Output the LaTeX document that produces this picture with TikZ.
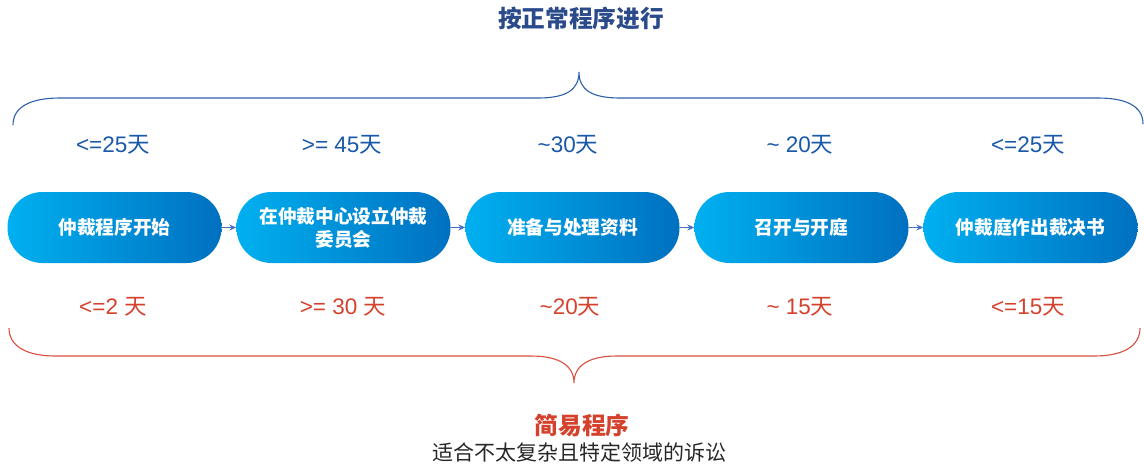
\documentclass[tikz,border=0pt]{standalone}
\usepackage{fontspec}
\setmainfont{Liberation Sans}
\newfontfamily\cjk{Noto Sans CJK SC}
\usetikzlibrary{arrows.meta}
\definecolor{boxL}{HTML}{00B0F0}
\definecolor{boxR}{HTML}{0070C0}
\definecolor{arrowc}{HTML}{4472C4}
\definecolor{topc}{HTML}{1A58A8}
\definecolor{titlec}{HTML}{2A4A8A}
\definecolor{redc}{HTML}{D4422D}
\definecolor{bracetop}{HTML}{2E5FAA}
\definecolor{bracebot}{HTML}{D9503E}
\begin{document}
\begin{tikzpicture}[x=1pt,y=-1pt,
  stepbox/.style={rounded corners=35pt,minimum width=214pt,minimum height=71pt,
    left color=boxL,right color=boxR,draw=none,text=white,align=center,
    font=\fontsize{18.7}{23}\selectfont\cjk\bfseries,inner sep=0pt},
  link/.style={arrowc,line width=1pt,-{Stealth[length=7pt,width=6pt]}},
  toplab/.style={text=topc,font=\fontsize{22.5}{26}\selectfont},
  botlab/.style={text=redc,font=\fontsize{22.5}{26}\selectfont},
  brace/.style={line width=1.1pt}]
\useasboundingbox (0,0) rectangle (1144,467);
% title
\node[text=titlec,font=\fontsize{23.7}{27}\selectfont\cjk\bfseries] (title) at (581,18) {按正常程序进行};
% top brace
\draw[brace,bracetop] (13,125) .. controls (13,106) and (32,98) .. (60,98) -- (538,98)
  .. controls (566,98) and (579,90) .. (579,72)
  .. controls (579,90) and (592,98) .. (620,98) -- (1098,98)
  .. controls (1126,98) and (1143,106) .. (1143,124);
% top labels
\node[toplab] (t1) at (113,145) {<=25{\cjk 天}};
\node[toplab] (t2) at (342,145) {>= 45{\cjk 天}};
\node[toplab] (t3) at (568,145) {\textasciitilde 30{\cjk 天}};
\node[toplab] (t4) at (800,145) {\textasciitilde{} 20{\cjk 天}};
\node[toplab] (t5) at (1028,145) {<=25{\cjk 天}};
% boxes
\node[stepbox] (b1) at (114.5,227.5) {仲裁程序开始};
\node[stepbox] (b2) at (343.5,227.5) {在仲裁中心设立仲裁\\委员会};
\node[stepbox] (b3) at (572.5,227.5) {准备与处理资料};
\node[stepbox] (b4) at (801.5,227.5) {召开与开庭};
\node[stepbox] (b5) at (1030.5,227.5) {仲裁庭作出裁决书};
\draw[link] (b1) -- (b2);
\draw[link] (b2) -- (b3);
\draw[link] (b3) -- (b4);
\draw[link] (b4) -- (b5);
% bottom labels
\node[botlab] (r1) at (113,307) {<=2 {\cjk 天}};
\node[botlab] (r2) at (343,307) {>= 30 {\cjk 天}};
\node[botlab] (r3) at (570,307) {\textasciitilde 20{\cjk 天}};
\node[botlab] (r4) at (800,307) {\textasciitilde{} 15{\cjk 天}};
\node[botlab] (r5) at (1028,307) {<=15{\cjk 天}};
% bottom brace
\draw[brace,bracebot] (9,328) .. controls (9,347) and (28,356) .. (55,356) -- (531,356)
  .. controls (560,356) and (574,366) .. (574,383)
  .. controls (574,366) and (588,356) .. (617,356) -- (1094,356)
  .. controls (1122,356) and (1140,347) .. (1140,328);
% bottom texts
\node[text=redc,font=\fontsize{23.7}{27}\selectfont\cjk\bfseries] (simple) at (582,425) {简易程序};
\node[text=black!85,font=\fontsize{21}{24}\selectfont\cjk] (desc) at (579,452) {适合不太复杂且特定领域的诉讼};
\end{tikzpicture}
\end{document}
